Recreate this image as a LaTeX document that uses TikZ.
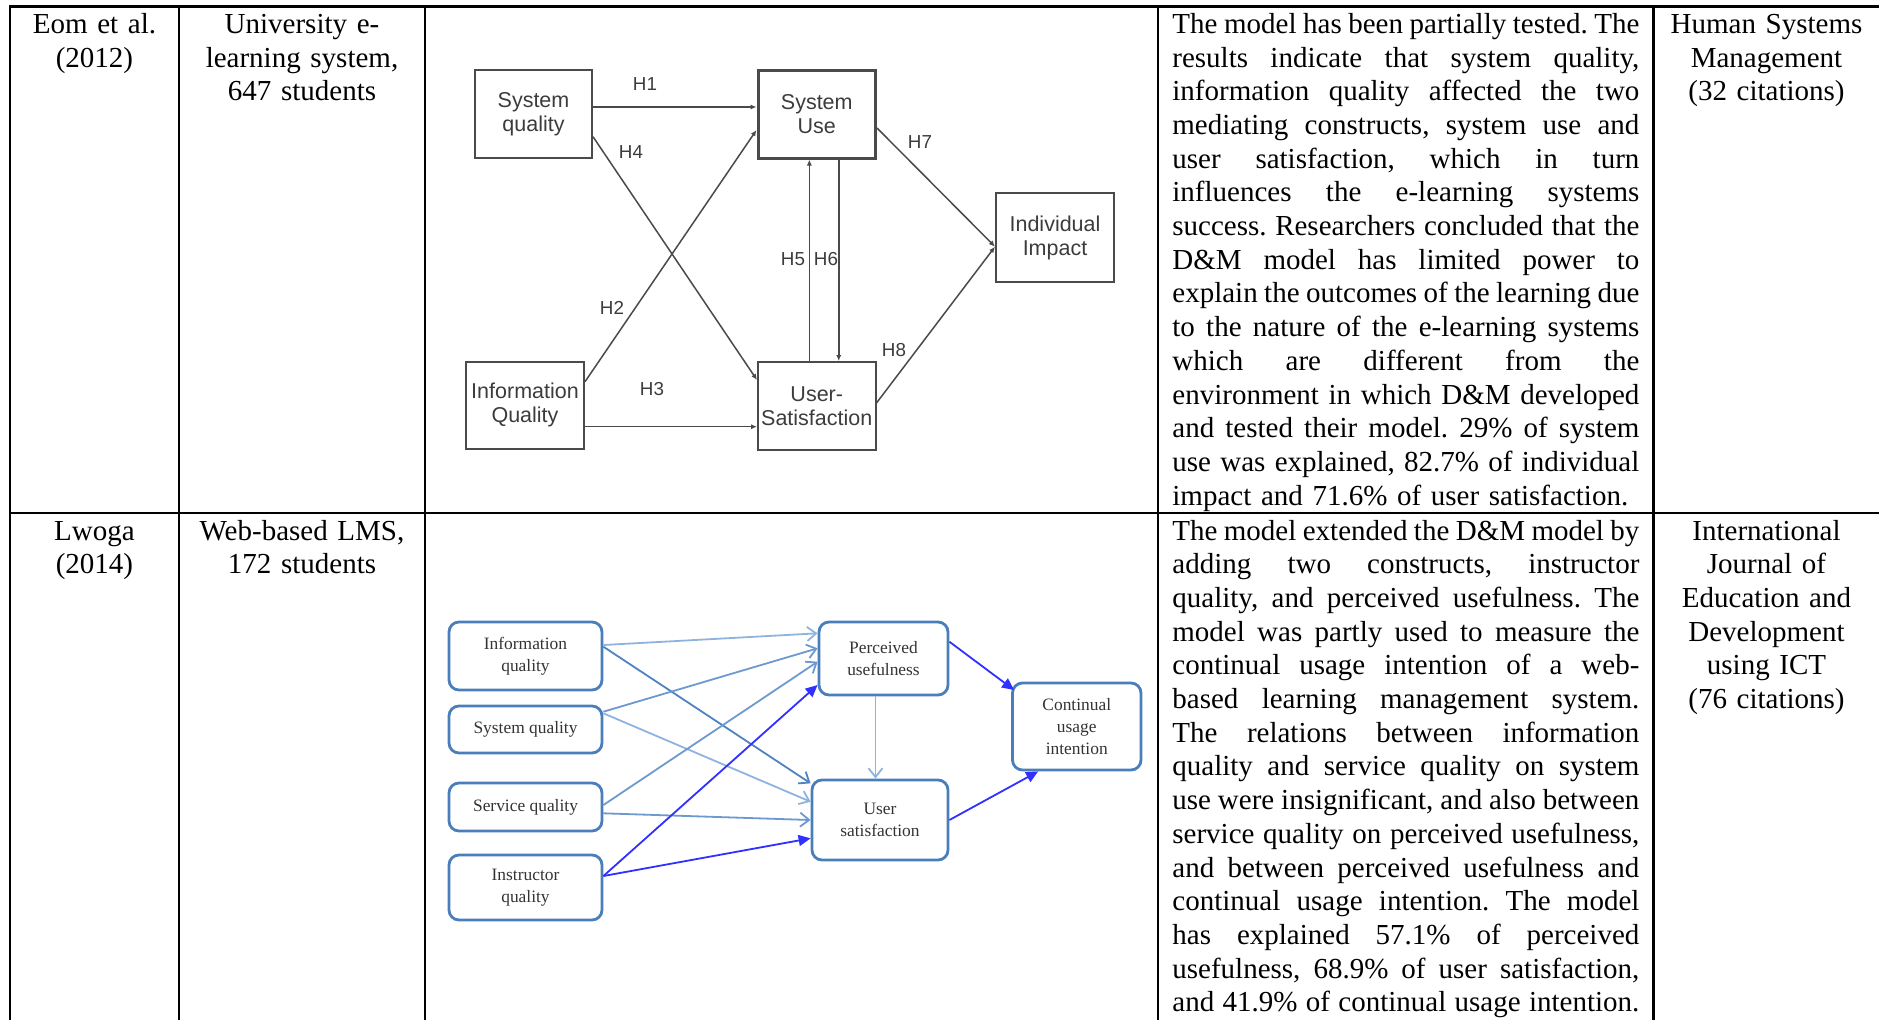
\documentclass[tikz,border=0pt]{standalone}
\usepackage{fontspec}
\setmainfont{Liberation Serif}
\newfontfamily\diagsans{Liberation Sans}
\usetikzlibrary{arrows.meta}
\frenchspacing

\definecolor{dmline}{HTML}{4A4A4A}
\definecolor{dmtext}{HTML}{3C3C3C}
\definecolor{lmsborder}{HTML}{4A7EBB}
\definecolor{lmslight}{HTML}{8DB3DF}
\definecolor{lmsmid}{HTML}{6D99CE}
\definecolor{lmsdark}{HTML}{4F82C0}
\definecolor{lmsblue}{HTML}{3030FF}
\definecolor{lmstext}{HTML}{333333}

% one fully justified line of a table cell, and a ragged last line
\newlength{\bodywidth}
\setlength{\bodywidth}{233.5pt}
\newcommand{\justline}[1]{\leavevmode\hbox to \bodywidth{\spaceskip=0.25em plus 1fil minus 0.12em\relax #1}}
\newcommand{\raggedlast}[1]{\leavevmode\hbox{#1}}

\begin{document}
\begin{tikzpicture}[x=0.5pt,y=-0.5pt,
  grid/.style={line width=1.3pt, line cap=rect},
  celltext/.style={font=\fontsize{14.5pt}{16.85pt}\selectfont, inner sep=0pt, anchor=base, align=center},
  bodytext/.style={font=\fontsize{14.5pt}{16.85pt}\selectfont, inner sep=0pt, anchor=base west, text width=\bodywidth, align=left},
  dmbox/.style={draw=dmline, line width=1pt, inner sep=0pt, text=dmtext, align=center,
    font=\diagsans\fontsize{10.75pt}{12pt}\selectfont},
  dmarrow/.style={draw=dmline, line width=0.75pt, -{Latex[length=3pt,width=2.6pt]}},
  dmlabel/.style={font=\diagsans\fontsize{9.4pt}{10pt}\selectfont, text=dmtext, inner sep=0pt},
  lmsbox/.style={draw=lmsborder, line width=1.4pt, rounded corners=5pt, inner sep=0pt, text=lmstext, align=center,
    font=\fontsize{8.7pt}{10.85pt}\selectfont},
  lmsthin/.style={line width=0.9pt, -{Straight Barb[length=4.5pt,width=7pt]}},
  lmsbold/.style={draw=lmsblue, line width=0.9pt, -{Triangle[length=6pt,width=5.5pt]}}
]
\useasboundingbox (0,0) rectangle (1879,1019);

% table rules
\draw[grid] (10,6.5) -- (1890,6.5);
\draw[grid] (10,513) -- (1890,513);
\foreach \gx in {10,179,425,1158,1653.5}
  \draw[grid] (\gx,6.5) -- (\gx,1030);

% ---------- row 1 ----------
\node[celltext, text width=84.5pt] (authA) at (94.5,33.3) {Eom et al.\\(2012)};
\node[celltext, text width=123pt] (ctxA) at (302,33.3) {University e-\\learning system,\\647 students};
\node[bodytext] (noteA) at (1172,33.3) {%
\justline{The model has been partially tested. The}\\
\justline{results indicate that system quality,}\\
\justline{information quality affected the two}\\
\justline{mediating constructs, system use and}\\
\justline{user satisfaction, which in turn}\\
\justline{influences the e-learning systems}\\
\justline{success. Researchers concluded that the}\\
\justline{D\&M model has limited power to}\\
\justline{explain the outcomes of the learning due}\\
\justline{to the nature of the e-learning systems}\\
\justline{which are different from the}\\
\justline{environment in which D\&M developed}\\
\justline{and tested their model. 29\% of system}\\
\justline{use was explained, 82.7\% of individual}\\
\raggedlast{impact and 71.6\% of user satisfaction.}};
\node[celltext, text width=113pt] (srcA) at (1766.5,33.3) {Human Systems\\Management\\(32 citations)};

% D&M model diagram
\node[dmbox, minimum width=58.5pt, minimum height=44pt] (sq) at (533.5,114) {System\\quality};
\node[dmbox, line width=1.5pt, minimum width=58.75pt, minimum height=44pt] (su) at (816.75,114) {System\\Use};
\node[dmbox, minimum width=59pt, minimum height=44.5pt] (ii) at (1055,237.5) {Individual\\Impact};
\node[dmbox, minimum width=59pt, minimum height=43.5pt] (iq) at (525,405) {Information\\Quality};
\node[dmbox, minimum width=58.75pt, minimum height=44pt] (us) at (816.75,406) {User-\\Satisfaction};

\draw[dmarrow, line width=1.1pt] ([yshift=3.5pt]sq.east) -- ([yshift=3.5pt]su.west);
\draw[dmarrow] ([yshift=-11.35pt]sq.east) -- ([yshift=13pt]us.west);
\draw[dmarrow] ([yshift=11.65pt]iq.east) -- ([yshift=-8pt]su.west);
\coordinate (h3s) at ([yshift=-10.85pt]iq.east);
\draw[dmarrow] (h3s) -- (h3s -| us.west);
\draw[dmarrow] ([xshift=-3.7pt]us.north) -- ([xshift=-3.7pt]su.south);
\draw[dmarrow] ([xshift=11pt]su.south) -- ([xshift=11pt]us.north);
\draw[dmarrow] ([yshift=-7pt]su.east) -- ([yshift=-4.6pt]ii.west);
\draw[dmarrow] ([yshift=1.5pt]us.east) -- ([yshift=-4.6pt]ii.west);

\node[dmlabel] (lh1) at (645,84) {H1};
\node[dmlabel] (lh4) at (631,152) {H4};
\node[dmlabel] (lh2) at (612,308) {H2};
\node[dmlabel] (lh3) at (652,389) {H3};
\node[dmlabel] (lh5) at (793,259) {H5};
\node[dmlabel] (lh6) at (826,259) {H6};
\node[dmlabel] (lh7) at (920,142) {H7};
\node[dmlabel] (lh8) at (894,350) {H8};

% ---------- row 2 ----------
\node[celltext, text width=84.5pt] (authB) at (94.5,540) {Lwoga\\(2014)};
\node[celltext, text width=123pt] (ctxB) at (302,540) {Web-based LMS,\\172 students};
\node[bodytext] (noteB) at (1172,540) {%
\justline{The model extended the D\&M model by}\\
\justline{adding two constructs, instructor}\\
\justline{quality, and perceived usefulness. The}\\
\justline{model was partly used to measure the}\\
\justline{continual usage intention of a web-}\\
\justline{based learning management system.}\\
\justline{The relations between information}\\
\justline{quality and service quality on system}\\
\justline{use were insignificant, and also between}\\
\justline{service quality on perceived usefulness,}\\
\justline{and between perceived usefulness and}\\
\justline{continual usage intention. The model}\\
\justline{has explained 57.1\% of perceived}\\
\justline{usefulness, 68.9\% of user satisfaction,}\\
\justline{and 41.9\% of continual usage intention.}};
\node[celltext, text width=113pt] (srcB) at (1766.5,540) {International\\Journal of\\Education and\\Development\\using ICT\\(76 citations)};

% extended LMS model diagram
\node[lmsbox, minimum width=76.5pt, minimum height=34pt] (infq) at (525.5,656) {Information\\quality};
\node[lmsbox, minimum width=76.5pt, minimum height=23.5pt] (sysq) at (525.5,729.5) {System quality};
\node[lmsbox, minimum width=76.5pt, minimum height=24pt] (servq) at (525.5,807) {Service quality};
\node[lmsbox, minimum width=76.5pt, minimum height=32.5pt] (instq) at (525.5,887.5) {Instructor\\quality};
\node[lmsbox, minimum width=64.5pt, minimum height=36.5pt] (pu) at (883.5,658.5) {Perceived\\usefulness};
\node[lmsbox, minimum width=68pt, minimum height=40pt] (usat) at (880,820) {User\\satisfaction};
\node[lmsbox, minimum width=64.25pt, minimum height=43.5pt] (cui) at (1076.75,726.5) {Continual\\usage\\intention};

\draw[lmsthin, lmslight] ([yshift=5.5pt]infq.east) -- ([yshift=12.6pt]pu.west);
\draw[lmsthin, lmsdark] ([yshift=4.65pt]infq.east) -- ([yshift=18.35pt]usat.west);
\draw[lmsthin, lmsmid] ([yshift=8.9pt]sysq.east) -- ([yshift=5.1pt]pu.west);
\draw[lmsthin, lmslight] ([yshift=8.1pt]sysq.east) -- ([yshift=9.15pt]usat.west);
\draw[lmsthin, lmsmid] ([yshift=1pt]servq.east) -- ([yshift=-1.6pt]pu.west);
\draw[lmsthin, lmsmid] ([yshift=-3.15pt]servq.east) -- (usat.west);
\coordinate (pus) at ([xshift=-4pt]pu.south);
\draw[lmsthin, lmslight] (pus) -- (pus |- usat.north);
\draw[lmsbold] ([yshift=5.75pt]instq.east) -- ([yshift=-13.25pt]pu.west);
\draw[lmsbold] ([yshift=5.75pt]instq.east) -- ([yshift=-9.15pt]usat.west);
\draw[lmsbold] ([yshift=8.4pt]pu.east) -- ([yshift=18.25pt,xshift=1.5pt]cui.west);
\draw[lmsbold] (usat.east) -- ([xshift=-19.3pt]cui.south);
\end{tikzpicture}
\end{document}
